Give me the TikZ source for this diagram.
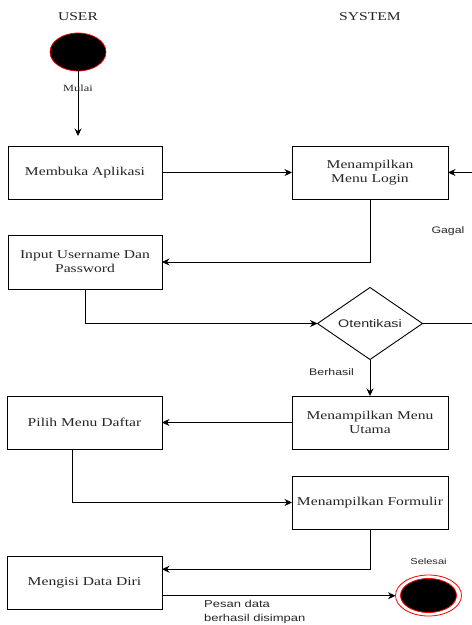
\documentclass[tikz,border=0pt]{standalone}
\usepackage{fontspec}
\setmainfont{Liberation Serif}[FakeStretch=1.3]
\newfontfamily\labsans{Liberation Sans}[FakeStretch=1.3]
\usetikzlibrary{shapes.geometric,arrows.meta,calc}
\definecolor{txt}{HTML}{262626}
\tikzset{
  box/.style={draw=black,line width=0.9pt,rectangle,minimum height=53pt,inner sep=2pt,outer sep=0pt,align=center,text=txt,font=\fontsize{12}{14}\selectfont},
  conn/.style={draw=black,line width=0.9pt},
  arr/.style={conn,-{Stealth[length=7.5pt,width=7pt]}},
  lab/.style={text=txt,font=\labsans\fontsize{9.5}{12}\selectfont,inner sep=0pt},
}
\begin{document}
\begin{tikzpicture}[x=1pt,y=-1pt]
\useasboundingbox (0,0) rectangle (472,625);
\fill[white] (0,0) rectangle (472,625);

\node[text=txt,font=\fontsize{12}{14}\selectfont] (user) at (78,17) {USER};
\node[text=txt,font=\fontsize{12}{14}\selectfont] (system) at (370,17) {SYSTEM};

\node[ellipse,draw=red,fill=black,line width=0.7pt,minimum width=56pt,minimum height=38pt,inner sep=0pt,outer sep=0pt] (start) at (78,52) {};
\coordinate (startend) at (78,136);

\node[box,minimum width=154pt] (mb) at (85,172.5) {Membuka Aplikasi};
\node[box,minimum width=156pt] (login) at (370,172.5) {Menampilkan\\Menu Login};
\node[box,minimum width=154pt,minimum height=54pt] (input) at (85,262) {Input Username Dan\\Password};
\node[diamond,draw=black,line width=0.9pt,minimum width=105pt,minimum height=72pt,inner sep=0pt,outer sep=0pt,text=txt,font=\labsans\fontsize{11}{13}\selectfont] (oten) at (370,323.5) {Otentikasi};
\node[box,minimum width=156pt] (utama) at (370,422.5) {Menampilkan Menu\\Utama};
\node[box,minimum width=155pt] (pilih) at (84.5,422.5) {Pilih Menu Daftar};
\node[box,minimum width=156pt] (form) at (370,502.5) {Menampilkan Formulir};
\node[box,minimum width=155pt] (isi) at (84.5,582.5) {Mengisi Data Diri};

\node[ellipse,draw=red,fill=white,line width=0.8pt,minimum width=66pt,minimum height=41pt,inner sep=0pt,outer sep=0pt] (end) at (428.5,595.5) {};
\node[ellipse,draw=red,fill=black,line width=0.8pt,minimum width=56pt,minimum height=34pt,inner sep=0pt,outer sep=0pt] (endin) at (428.5,595.5) {};

\coordinate (gagalx) at (472,323.5);
\coordinate (pilihout) at (72,449);
\coordinate (isiin) at ($(isi.north east)!0.25!(isi.south east)$);
\coordinate (isiout) at ($(isi.north east)!0.75!(isi.south east)$);

\draw[arr] (start.south) -- (startend);
\draw[arr] (mb.east) -- (login.west);
\draw[arr] (oten.east) -- (gagalx) |- (login.east);
\draw[arr] (login.south) |- (input.east);
\draw[arr] (input.south) |- (oten.west);
\draw[arr] (oten.south) -- (utama.north);
\draw[arr] (utama.west) -- (pilih.east);
\draw[arr] (pilihout) |- (form.west);
\draw[arr] (form.south) |- (isiin);
\draw[arr] (isiout) -- (end.west |- isiout);

\node[text=txt,font=\fontsize{9.5}{11}\selectfont,inner sep=0pt] (mulai) at (78,88) {Mulai};
\node[lab] (gagal) at (448,231) {Gagal};
\node[lab] (berhasil) at (331.5,372) {Berhasil};
\node[lab,font=\labsans\fontsize{8.5}{10}\selectfont] (selesai) at (428.5,561) {Selesai};
\node[lab,align=left,anchor=north west,font=\labsans\fontsize{10}{14}\selectfont] (pesan) at (204,600) {Pesan data\\berhasil disimpan};
\end{tikzpicture}
\end{document}
